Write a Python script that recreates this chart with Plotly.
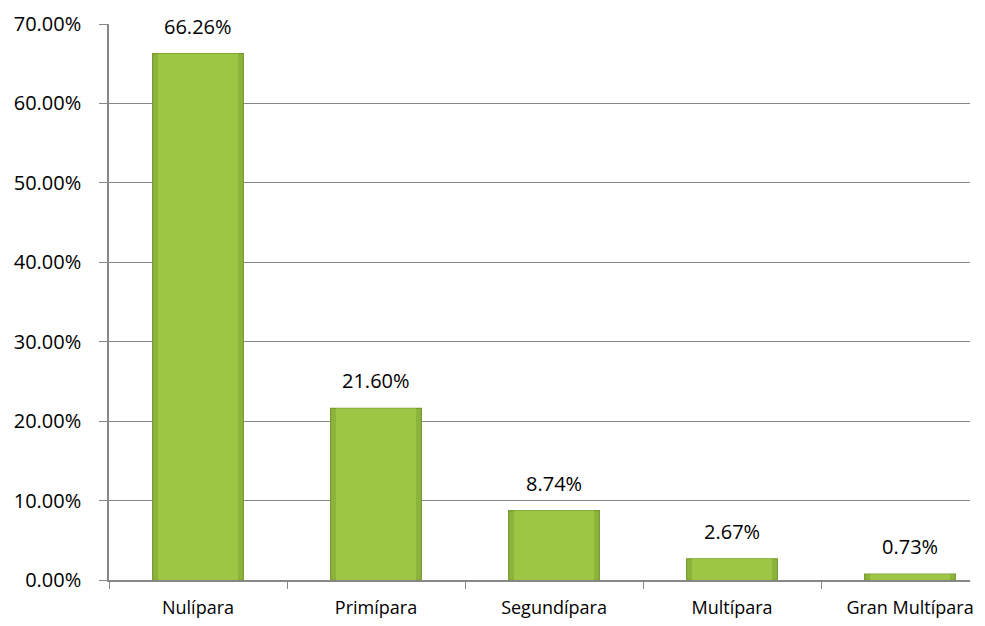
import plotly.graph_objects as go

categories = ["Nulípara", "Primípara", "Segundípara", "Multípara", "Gran Multípara"]
values = [66.26, 21.60, 8.74, 2.67, 0.73]
labels = ["66.26%", "21.60%", "8.74%", "2.67%", "0.73%"]
y_ticks = [0, 10, 20, 30, 40, 50, 60, 70]
y_tick_labels = ["0.00%", "10.00%", "20.00%", "30.00%", "40.00%", "50.00%", "60.00%", "70.00%"]

family = "Open Sans, Liberation Sans, sans-serif"
font_x = dict(family=family, size=18, color="#000000")
font_y = dict(family=family, size=20, color="#000000")
font_lbl = dict(family=family, size=20, color="#000000")

fig = go.Figure()
fig.add_trace(go.Bar(
    x=categories, y=values,
    marker=dict(color="#8DB43A", line=dict(color="#789C30", width=1.2)),
    width=0.51,
    hoverinfo="skip",
))
# lighter inner face for bevel effect
fig.add_trace(go.Bar(
    x=categories, y=values,
    marker=dict(color="#9DC645", line=dict(width=0)),
    width=0.45,
    hoverinfo="skip",
))

for c, v, t in zip(categories, values, labels):
    fig.add_annotation(x=c, y=v, text=t, showarrow=False, yanchor="bottom",
                       yshift=12, font=font_lbl)

fig.update_layout(
    width=985, height=626,
    margin=dict(l=101, r=23, t=16, b=54, autoexpand=False),
    plot_bgcolor="white", paper_bgcolor="white",
    barmode="overlay",
    showlegend=False,
    font=font_x,
    xaxis=dict(
        range=[-0.5, 4.337],
        showgrid=False,
        showline=True, linecolor="#878787", linewidth=1.5,
        ticks="outside", tickson="boundaries", ticklen=7, tickcolor="#878787",
        tickfont=font_x, ticklabelstandoff=11,
        automargin=False,
        fixedrange=True,
    ),
    yaxis=dict(
        range=[0, 70],
        tickvals=y_ticks, ticktext=y_tick_labels,
        showgrid=True, gridcolor="#878787", gridwidth=1,
        showline=True, linecolor="#878787", linewidth=1.5,
        ticks="outside", ticklen=8, tickcolor="#878787",
        tickfont=font_y, ticklabelstandoff=14,
        automargin=False,
        zeroline=False,
    ),
)

fig.write_html("out.html")
